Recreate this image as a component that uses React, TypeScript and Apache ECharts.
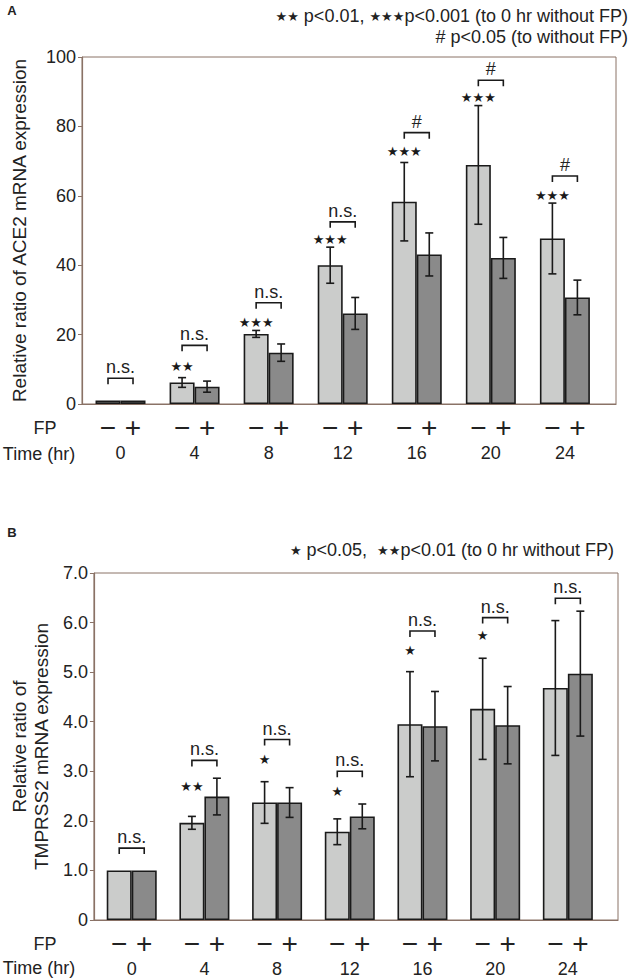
import React, { useEffect, useRef } from 'react';
import * as echarts from 'echarts';

const FONT = '"Liberation Sans", Arial, sans-serif';
const STAR_FONT = '"DejaVu Sans", sans-serif';
const AXIS_COLOR = '#8a7266';
const LIGHT = '#cbcccb';
const DARK = '#8a8a8a';
const INK = '#1a1a1a';

// shared categories
const timeLabels = ['0', '4', '8', '12', '16', '20', '24'];

// Panel A: ACE2
const aceMinus = [1, 6.2, 20.2, 40.0, 58.3, 68.9, 47.7];
const aceMinusErr = [0, 1.4, 1.0, 5.2, 11.3, 17.1, 10.2];
const acePlus = [1, 5.0, 14.8, 26.1, 43.1, 42.1, 30.7];
const acePlusErr = [0, 1.6, 2.5, 4.6, 6.2, 5.9, 5.0];
const aceStars = ['', '★★', '★★★', '★★★', '★★★', '★★★', '★★★'];
const aceStarY = [0, 10.8, 23.5, 47.4, 72.7, 88.4, 60.0];
const aceCmp = ['n.s.', 'n.s.', 'n.s.', 'n.s.', '#', '#', '#'];
const aceCmpY = [7.4, 16.9, 29.2, 52.5, 78.2, 93.3, 65.7];

// Panel B: TMPRSS2
const tmMinus = [1, 1.96, 2.37, 1.78, 3.95, 4.26, 4.68];
const tmMinusErr = [0, 0.13, 0.42, 0.26, 1.06, 1.02, 1.36];
const tmPlus = [1, 2.49, 2.37, 2.09, 3.91, 3.93, 4.97];
const tmPlusErr = [0, 0.37, 0.3, 0.25, 0.7, 0.78, 1.26];
const tmStars = ['', '★★', '★', '★', '★', '★', ''];
const tmStarY = [0, 2.69, 3.23, 2.59, 5.44, 5.74, 0];
const tmCmp = ['n.s.', 'n.s.', 'n.s.', 'n.s.', 'n.s.', 'n.s.', 'n.s.'];
const tmCmpY = [1.45, 3.22, 3.64, 3.0, 5.83, 6.1, 6.49];

const HALF = 12.5; // half bar width in px

function barSeries(gi: number, vals: number[], color: string, name: string) {
  return {
    type: 'bar',
    name,
    xAxisIndex: gi,
    yAxisIndex: gi,
    data: vals.map((v, i) => [i, v]),
    barWidth: 25,
    barGap: '0%',
    itemStyle: { color, borderColor: INK, borderWidth: 1.6 },
    z: 2,
  };
}

function errorSeries(gi: number, vals: number[], errs: number[], side: number) {
  return {
    type: 'custom',
    xAxisIndex: gi,
    yAxisIndex: gi,
    silent: true,
    z: 4,
    data: vals.map((v, i) => [i, v, errs[i]]),
    renderItem: (params: any, api: any) => {
      const i = api.value(0);
      const v = api.value(1);
      const e = api.value(2);
      if (!e) return null;
      const hi = api.coord([i, v + e]);
      const lo = api.coord([i, v - e]);
      const x = hi[0] + side * HALF;
      const cap = 4;
      const st = { stroke: INK, lineWidth: 1.6 };
      return {
        type: 'group',
        children: [
          { type: 'line', shape: { x1: x, y1: hi[1], x2: x, y2: lo[1] }, style: st },
          { type: 'line', shape: { x1: x - cap, y1: hi[1], x2: x + cap, y2: hi[1] }, style: st },
          { type: 'line', shape: { x1: x - cap, y1: lo[1], x2: x + cap, y2: lo[1] }, style: st },
        ],
      };
    },
  };
}

function starSeries(gi: number, stars: string[], ys: number[]) {
  return {
    type: 'custom',
    xAxisIndex: gi,
    yAxisIndex: gi,
    silent: true,
    z: 5,
    data: ys.map((y, i) => [i, y]),
    renderItem: (params: any, api: any) => {
      const s = stars[params.dataIndex];
      if (!s) return null;
      const c = api.coord([api.value(0), api.value(1)]);
      return {
        type: 'text',
        x: c[0] - HALF,
        y: c[1],
        style: {
          text: s,
          fontSize: 13,
          fontFamily: STAR_FONT,
          fill: INK,
          align: 'center',
          verticalAlign: 'middle',
          textAlign: 'center',
          textVerticalAlign: 'middle',
        },
      };
    },
  };
}

function bracketSeries(gi: number, labels: string[], ys: number[]) {
  return {
    type: 'custom',
    xAxisIndex: gi,
    yAxisIndex: gi,
    silent: true,
    z: 5,
    data: ys.map((y, i) => [i, y]),
    renderItem: (params: any, api: any) => {
      const c = api.coord([api.value(0), api.value(1)]);
      const leg = 6;
      return {
        type: 'group',
        children: [
          {
            type: 'polyline',
            shape: {
              points: [
                [c[0] - HALF, c[1] + leg],
                [c[0] - HALF, c[1]],
                [c[0] + HALF, c[1]],
                [c[0] + HALF, c[1] + leg],
              ],
            },
            style: { stroke: INK, lineWidth: 1.6, fill: null },
          },
          {
            type: 'text',
            x: c[0],
            y: c[1] - 2,
            style: {
              text: labels[params.dataIndex],
              fontSize: 18,
              fontFamily: FONT,
              fill: '#222',
              align: 'center',
              verticalAlign: 'bottom',
              textAlign: 'center',
              textVerticalAlign: 'bottom',
            },
          },
        ],
      };
    },
  };
}

function xAxisCfg(gi: number) {
  return {
    type: 'value',
    gridIndex: gi,
    min: -0.52,
    max: 6.69,
    splitLine: { show: false },
    axisTick: { show: false },
    axisLine: { show: true, onZero: false, lineStyle: { color: AXIS_COLOR, width: 1.2 } },
    axisLabel: {
      show: true,
      customValues: [0, 1, 2, 3, 4, 5, 6],
      margin: 10,
      formatter: (v: number) => `{m|−}{p|+}\n{t|${timeLabels[Math.round(v)]}}`,
      rich: {
        m: { width: 25, align: 'center', fontSize: 28, lineHeight: 26, fontFamily: FONT, color: '#222' },
        p: { width: 25, align: 'center', fontSize: 28, lineHeight: 26, fontFamily: FONT, color: '#222' },
        t: { fontSize: 18, lineHeight: 26, fontFamily: FONT, color: '#222', align: 'center' },
      },
    },
  };
}

function yAxisCfg(gi: number, max: number, interval: number, name: string, nameGap: number, fmt: (v: number) => string) {
  return {
    type: 'value',
    gridIndex: gi,
    min: 0,
    max,
    interval,
    splitLine: { show: false },
    axisLine: { show: true, onZero: false, lineStyle: { color: AXIS_COLOR, width: 1.2 } },
    axisTick: { show: true, length: 4, lineStyle: { color: AXIS_COLOR } },
    axisLabel: { fontSize: 18, fontFamily: FONT, color: '#222', margin: 6, formatter: fmt },
    name,
    nameLocation: 'middle',
    nameGap,
    nameTextStyle: { fontSize: 19, fontFamily: FONT, color: '#222', lineHeight: 22 },
  };
}

function txt(x: number, y: number, text: string, opts: any = {}) {
  return {
    type: 'text',
    x,
    y,
    silent: true,
    style: {
      text,
      fontSize: 18,
      fontFamily: FONT,
      fill: '#222',
      textAlign: opts.align || 'center',
      textVerticalAlign: 'middle',
      align: opts.align || 'center',
      verticalAlign: 'middle',
      ...(opts.style || {}),
    },
  };
}

export default function App() {
  const ref = useRef<HTMLDivElement>(null);
  useEffect(() => {
    if (!ref.current) return;
    const chart = echarts.init(ref.current, undefined, { renderer: 'svg' });
    const richStar = { s: { fontSize: 13, fontFamily: STAR_FONT, color: '#222' } };
    chart.setOption({
      animation: false,
      backgroundColor: '#fff',
      grid: [
        { left: 82, top: 57, width: 534, height: 347, show: true, borderColor: AXIS_COLOR, borderWidth: 1, backgroundColor: 'transparent' },
        { left: 84, top: 573, width: 534, height: 347, show: true, borderColor: AXIS_COLOR, borderWidth: 1, backgroundColor: 'transparent' },
      ],
      xAxis: [xAxisCfg(0), xAxisCfg(1)],
      yAxis: [
        yAxisCfg(0, 100, 20, 'Relative ratio of ACE2 mRNA expression', 52, (v) => String(v)),
        yAxisCfg(1, 7, 1, 'Relative ratio of\nTMPRSS2 mRNA expression', 40, (v) => (v === 0 ? '0' : v.toFixed(1))),
      ],
      graphic: [
        txt(12, 10, 'A', { style: { fontSize: 13, fontWeight: 'bold' } }),
        {
          type: 'text', x: 628, y: 16, silent: true,
          style: {
            text: '{s|★★} p<0.01, {s|★★★}p<0.001 (to 0 hr without FP)',
            rich: richStar, fontSize: 18, fontFamily: FONT, fill: '#222',
            textAlign: 'right', textVerticalAlign: 'middle', align: 'right', verticalAlign: 'middle',
          },
        },
        txt(628, 37, '# p<0.05 (to without FP)', { align: 'right' }),
        txt(45, 428, 'FP'),
        txt(39, 454, 'Time (hr)'),
        txt(12, 532, 'B', { style: { fontSize: 13, fontWeight: 'bold' } }),
        {
          type: 'text', x: 614, y: 550, silent: true,
          style: {
            text: '{s|★} p<0.05,  {s|★★}p<0.01 (to 0 hr without FP)',
            rich: richStar, fontSize: 18, fontFamily: FONT, fill: '#222',
            textAlign: 'right', textVerticalAlign: 'middle', align: 'right', verticalAlign: 'middle',
          },
        },
        txt(45, 944, 'FP'),
        txt(39, 968, 'Time (hr)'),
      ],
      series: [
        barSeries(0, aceMinus, LIGHT, 'FP −'),
        barSeries(0, acePlus, DARK, 'FP +'),
        errorSeries(0, aceMinus, aceMinusErr, -1),
        errorSeries(0, acePlus, acePlusErr, 1),
        starSeries(0, aceStars, aceStarY),
        bracketSeries(0, aceCmp, aceCmpY),
        barSeries(1, tmMinus, LIGHT, 'FP −'),
        barSeries(1, tmPlus, DARK, 'FP +'),
        errorSeries(1, tmMinus, tmMinusErr, -1),
        errorSeries(1, tmPlus, tmPlusErr, 1),
        starSeries(1, tmStars, tmStarY),
        bracketSeries(1, tmCmp, tmCmpY),
      ],
    });
    return () => chart.dispose();
  }, []);
  return <div ref={ref} style={{ position: 'absolute', left: 0, top: 0, width: 630, height: 980 }} />;
}
